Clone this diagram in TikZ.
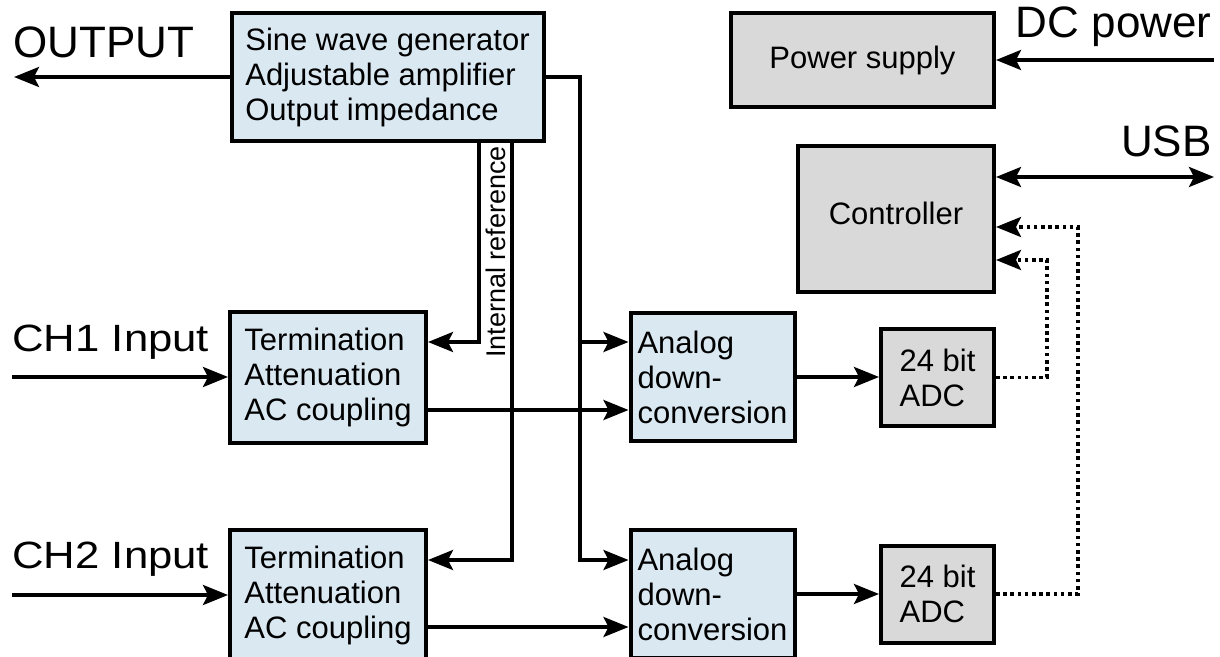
\documentclass[tikz,border=0pt]{standalone}
\usepackage{fontspec}
\usepackage{graphicx}
\setmainfont{Liberation Sans}
\usetikzlibrary{arrows.meta}

\definecolor{boxblue}{HTML}{DAE8F2}
\definecolor{boxgray}{HTML}{D9D9D9}

\begin{document}
\begin{tikzpicture}[x=0.5pt, y=-0.5pt,
    block/.style={draw, line width=2pt, align=left, inner sep=0pt,
        font=\fontsize{15.5}{17.5}\selectfont},
    bluebox/.style={block, fill=boxblue},
    graybox/.style={block, fill=boxgray},
    biglabel/.style={inner sep=0pt, font=\fontsize{22}{24}\selectfont},
    wire/.style={line width=1.7pt},
    sig/.style={wire, -{Stealth[length=12.5pt, width=10pt, inset=2.5pt]}},
    bisig/.style={wire, {Stealth[length=12.5pt, width=10pt, inset=2.5pt]}-{Stealth[length=12.5pt, width=10pt, inset=2.5pt]}},
    ctrl/.style={sig, dash pattern=on 1.8pt off 1.8pt}]
    \useasboundingbox (0,0) rectangle (1220,657);
    \clip (0,0) rectangle (1220,657);

    \node[bluebox, minimum width=156pt, minimum height=64pt] (gen) at (387.5,77)
        {Sine wave generator\\Adjustable amplifier\\Output impedance};
    \node[bluebox, minimum width=98pt, minimum height=65pt] (term1) at (328,377.5)
        {Termination\\Attenuation\\AC coupling};
    \node[bluebox, minimum width=98pt, minimum height=65pt] (term2) at (328,595)
        {Termination\\Attenuation\\AC coupling};
    \node[bluebox, minimum width=82pt, minimum height=64pt] (ana1) at (712.5,377)
        {Analog\\down-\\conversion};
    \node[bluebox, minimum width=82pt, minimum height=64pt] (ana2) at (712.5,594)
        {Analog\\down-\\conversion};
    \node[graybox, minimum width=56.5pt, minimum height=48.5pt] (adc1) at (937.5,377.5)
        {24 bit\\ADC};
    \node[graybox, minimum width=56.5pt, minimum height=48.5pt] (adc2) at (937.5,594)
        {24 bit\\ADC};
    \node[graybox, minimum width=131.5pt, minimum height=47pt] (power) at (862.5,60)
        {Power supply};
    \node[graybox, minimum width=98pt, minimum height=73pt, text depth=6pt] (ctrl) at (896,219)
        {Controller};

    \node[biglabel, anchor=base west] (outlbl) at (13,58) {OUTPUT};
    \node[biglabel, anchor=base west] (ch1lbl) at (12,352) {\scalebox{1.15}[1]{\fontsize{19}{21}\selectfont CH1 Input}};
    \node[biglabel, anchor=base west] (ch2lbl) at (12,568) {\scalebox{1.15}[1]{\fontsize{19}{21}\selectfont CH2 Input}};
    \node[biglabel, anchor=base east] (dclbl) at (1212,38) {DC power};
    \node[biglabel, anchor=base east] (usblbl) at (1212,157) {USB};
    \node[inner sep=0pt, rotate=90, font=\fontsize{13.5}{15}\selectfont] (reflbl) at (496,252) {Internal reference};

    \coordinate (outend) at (14,77);
    \coordinate (ch1) at (12,377);
    \coordinate (ch2) at (12,595);
    \coordinate (tap1) at (580,342);
    \coordinate (tap2) at (580,560);
    \coordinate (ref1) at (479,342);
    \coordinate (ref2) at (512,560);
    \coordinate (mix1) at (427,410);
    \coordinate (mix2) at (427,627);
    \coordinate (dot1) at (1047,260);
    \coordinate (dot2) at (1078,227);
    \coordinate (dcin) at (1214,60);
    \coordinate (usb) at (1214,177);

    \draw[sig] (gen.west) -- (outend);
    \draw[sig] (ch1) -- (ch1 -| term1.west);
    \draw[sig] (ch2) -- (ch2 -| term2.west);
    \draw[sig] (ref1 |- gen.south) -- (ref1) -- (ref1 -| term1.east);
    \draw[sig] (ref2 |- gen.south) -- (ref2) -- (ref2 -| term2.east);
    \draw[sig] (gen.east) -| (tap2) -- (tap2 -| ana2.west);
    \draw[sig] (tap1) -- (tap1 -| ana1.west);
    \draw[sig] (mix1) -- (mix1 -| ana1.west);
    \draw[sig] (mix2) -- (mix2 -| ana2.west);
    \draw[sig] (ana1.east) -- (ana1.east -| adc1.west);
    \draw[sig] (ana2.east) -- (ana2.east -| adc2.west);
    \draw[ctrl] (adc1.east) -| (dot1) -- (dot1 -| ctrl.east);
    \draw[ctrl] (adc2.east) -| (dot2) -- (dot2 -| ctrl.east);
    \draw[sig] (dcin) -- (power.east);
    \draw[bisig] (usb -| ctrl.east) -- (usb);
\end{tikzpicture}
\end{document}
